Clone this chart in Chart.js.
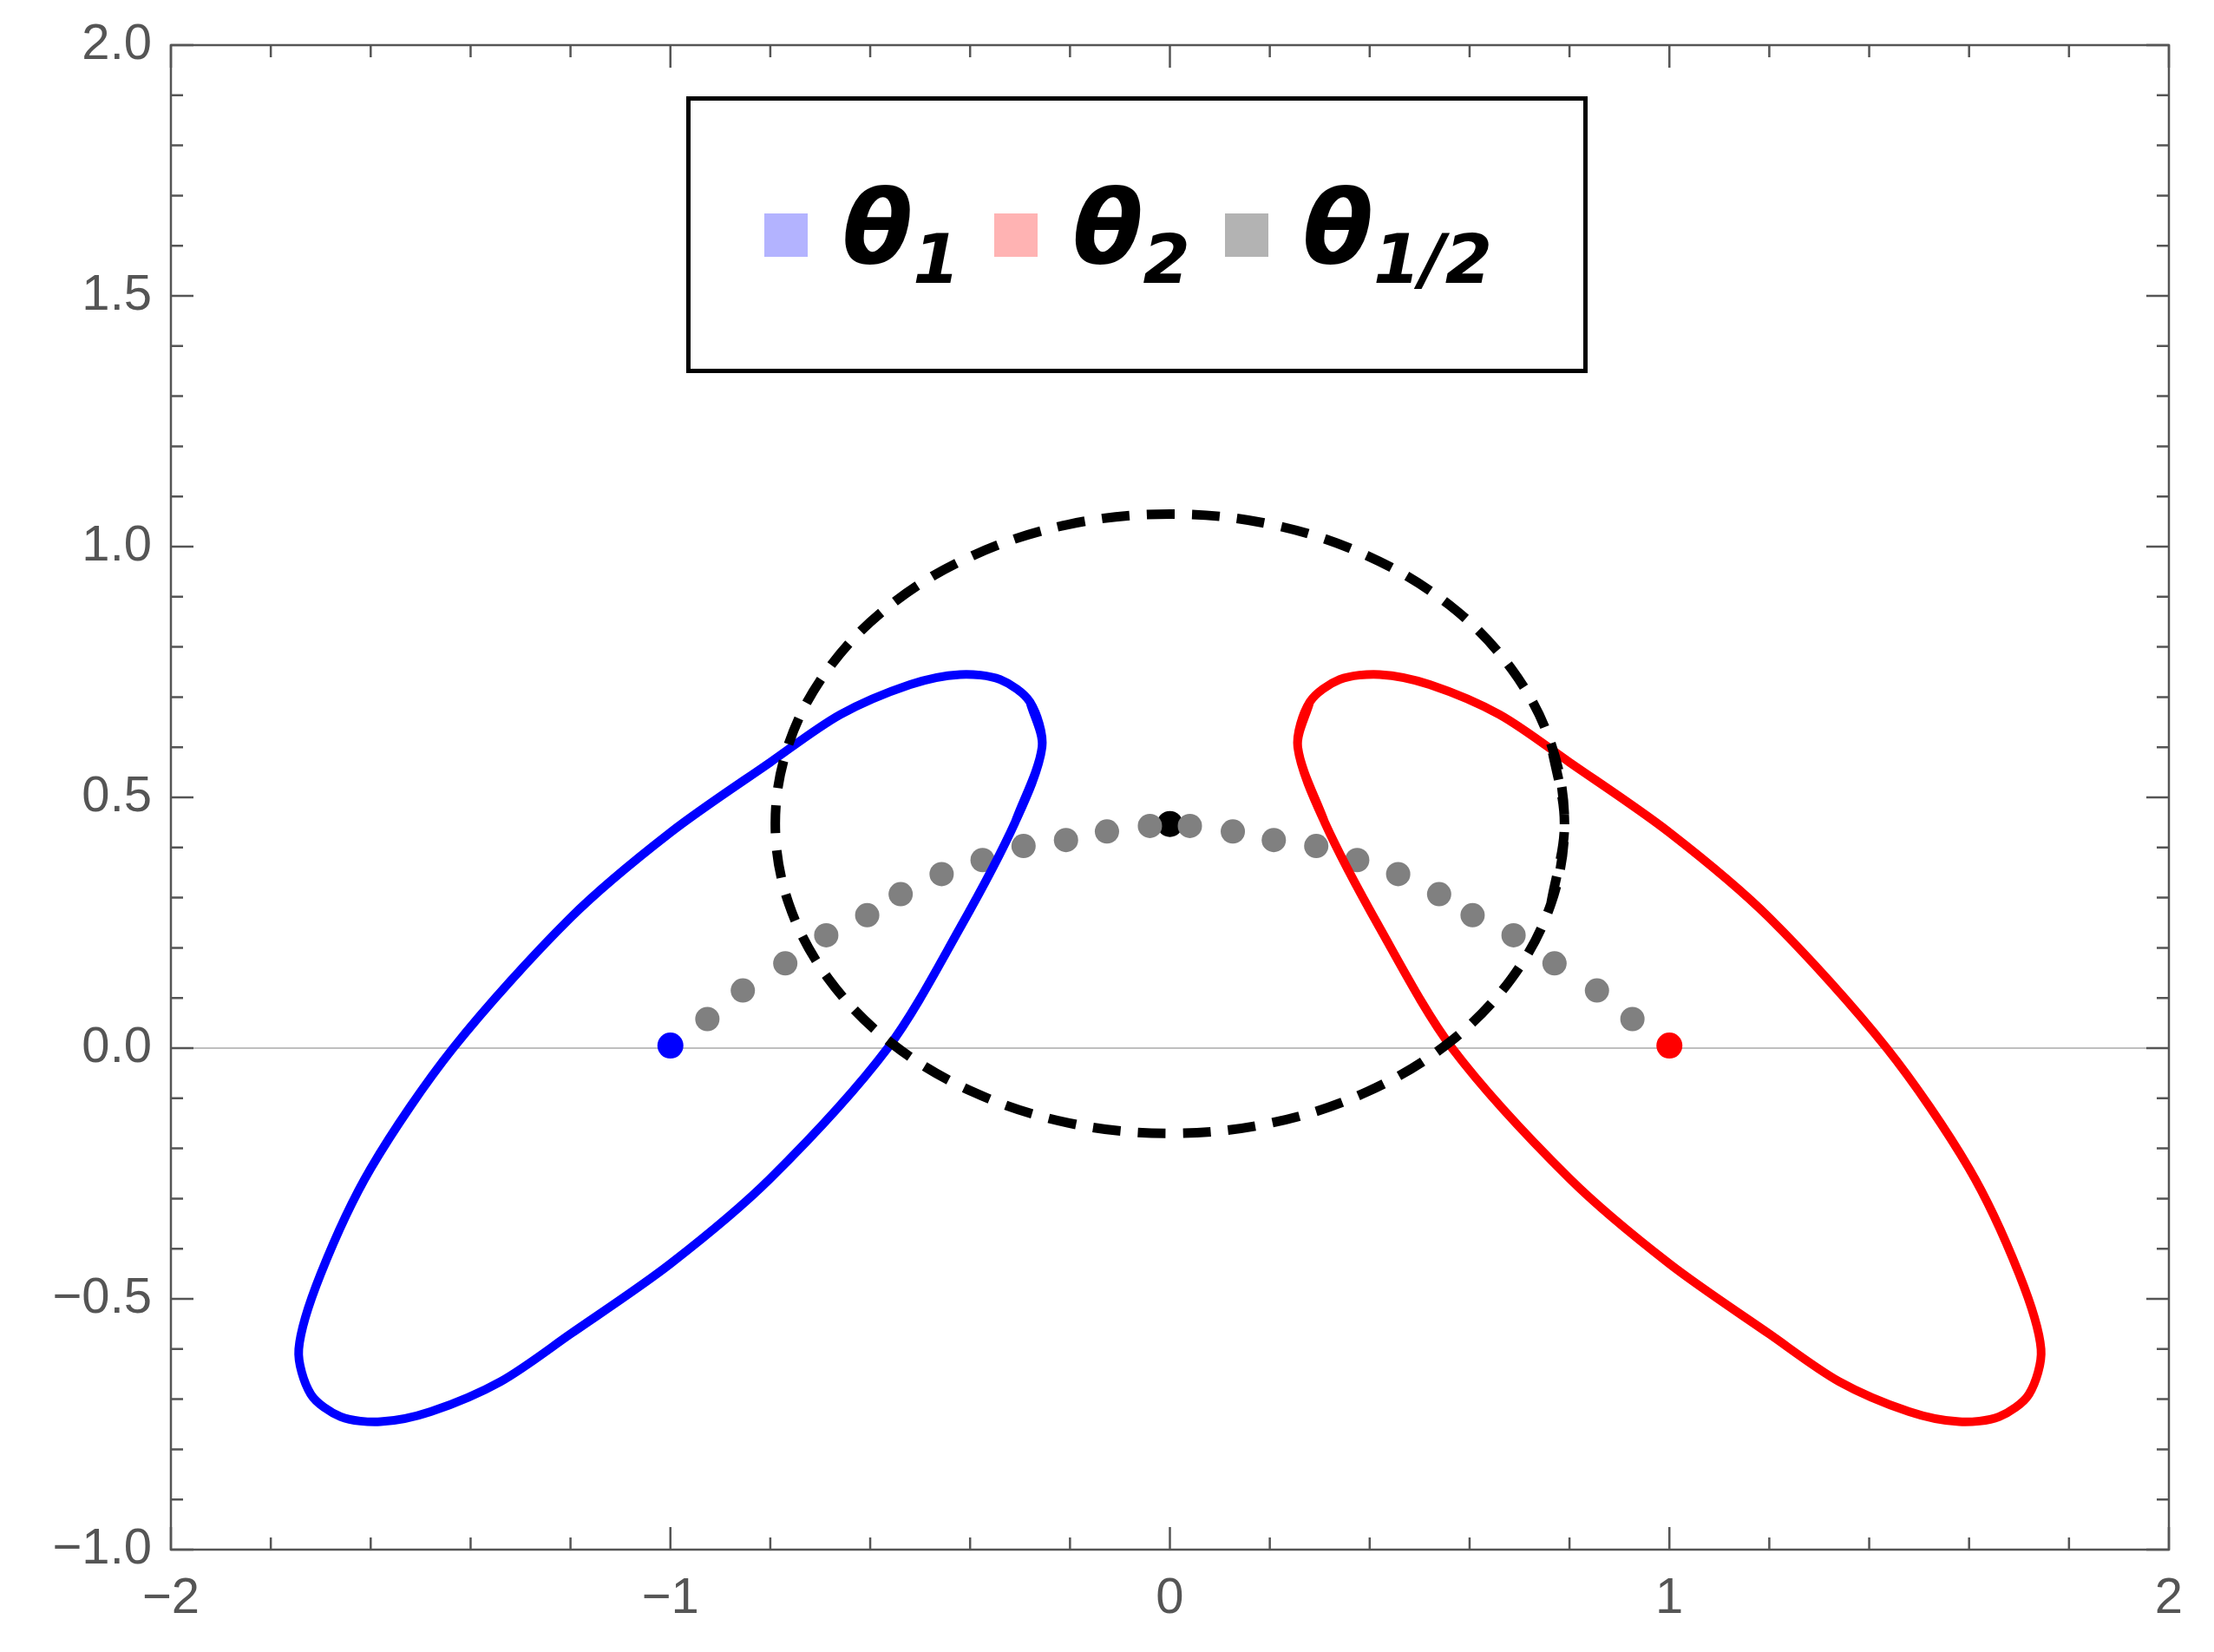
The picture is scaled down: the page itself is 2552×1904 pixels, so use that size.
<!DOCTYPE html>
<html><head><meta charset="utf-8">
<script src="https://cdn.jsdelivr.net/npm/chart.js@4"></script>
<style>
html,body{margin:0;padding:0;background:#fff;}
#wrap{position:relative;width:2552px;height:1904px;}
#legend{position:absolute;left:791px;top:111px;width:1029px;height:309px;border:5px solid #000;background:#fff;display:flex;align-items:center;justify-content:center;font-family:"DejaVu Sans",sans-serif;}
.sq{width:50px;height:50px;display:inline-block;margin:0 40px 0 10px;}
.lab{font-weight:bold;font-style:italic;font-size:118px;margin-right:30px;line-height:1;}
.lab sub{font-size:78px;vertical-align:-0.3em;}
</style></head><body>
<div id="wrap"><canvas id="c" width="2552" height="1904"></canvas>
<div id="legend">
<span class="sq" style="background:#b3b3ff"></span><span class="lab">θ<sub>1</sub></span>
<span class="sq" style="background:#ffb3b3"></span><span class="lab">θ<sub>2</sub></span>
<span class="sq" style="background:#b3b3b3"></span><span class="lab">θ<sub>1/2</sub></span>
</div></div>
<script>
const blueX=[-0.256,-0.28,-0.34,-0.42,-0.52,-0.66,-0.80,-1.00,-1.20,-1.435,-1.60,-1.70,-1.744,-1.72,-1.66,-1.58,-1.48,-1.34,-1.20,-1.00,-0.80,-0.565,-0.42,-0.31];
const blueY=[0.60,0.69,0.735,0.745,0.725,0.665,0.57,0.43,0.26,0.0,-0.24,-0.45,-0.60,-0.69,-0.735,-0.745,-0.725,-0.665,-0.57,-0.43,-0.26,0.0,0.24,0.45];
const redX=[0.256,0.28,0.34,0.42,0.52,0.66,0.80,1.00,1.20,1.435,1.60,1.70,1.744,1.72,1.66,1.58,1.48,1.34,1.20,1.00,0.80,0.565,0.42,0.31];
const redY=[0.60,0.69,0.735,0.745,0.725,0.665,0.57,0.43,0.26,0.0,-0.24,-0.45,-0.60,-0.69,-0.735,-0.745,-0.725,-0.665,-0.57,-0.43,-0.26,0.0,0.24,0.45];
const circX=[0.79,0.763,0.684,0.559,0.395,0.204,0,-0.204,-0.395,-0.559,-0.684,-0.763,-0.79,-0.763,-0.684,-0.559,-0.395,-0.204,0,0.204,0.395,0.559,0.684,0.763];
const circY=[0.4475,0.607,0.756,0.884,0.982,1.044,1.065,1.044,0.982,0.884,0.756,0.607,0.4475,0.288,0.139,0.011,-0.087,-0.149,-0.17,-0.149,-0.087,0.011,0.139,0.288];
const dotX=[-0.926,-0.855,-0.770,-0.688,-0.606,-0.539,-0.457,-0.375,-0.293,-0.208,-0.126,-0.04,0.04,0.126,0.208,0.293,0.375,0.457,0.539,0.606,0.688,0.770,0.855,0.926];
const dotY=[0.058,0.115,0.169,0.225,0.265,0.307,0.347,0.375,0.403,0.415,0.432,0.443,0.443,0.432,0.415,0.403,0.375,0.347,0.307,0.265,0.225,0.169,0.115,0.058];
const xTicks=[-2,-1,0,1,2];
const yTicks=[-1.0,-0.5,0.0,0.5,1.0,1.5,2.0];
const pts=(xs,ys,close)=>{const p=xs.map((x,i)=>({x,y:ys[i]}));if(close){p.unshift(p[p.length-1]);p.push(p[1],p[2]);}return p;};
const gray='#555';
const tickPlugin={id:'ticks',afterDraw(ch){
 const c=ch.ctx,a=ch.chartArea,sx=ch.scales.x,sy=ch.scales.y;
 c.save();
 c.strokeStyle=gray;c.lineWidth=2.5;
 for(let i=0;i<=20;i++){const v=-2+i*0.2;const px=sx.getPixelForValue(v);const L=(i%5===0)?26:14;
  c.beginPath();c.moveTo(px,a.bottom);c.lineTo(px,a.bottom-L);c.moveTo(px,a.top);c.lineTo(px,a.top+L);c.stroke();}
 for(let i=0;i<=30;i++){const v=-1+i*0.1;const py=sy.getPixelForValue(v);const L=(i%5===0)?26:14;
  c.beginPath();c.moveTo(a.left,py);c.lineTo(a.left+L,py);c.moveTo(a.right,py);c.lineTo(a.right-L,py);c.stroke();}
 c.strokeRect(a.left,a.top,a.right-a.left,a.bottom-a.top);
 c.restore();},
 beforeDatasetsDraw(ch){const c=ch.ctx,a=ch.chartArea,sy=ch.scales.y;c.save();c.strokeStyle='#aaa';c.lineWidth=1.5;c.beginPath();c.moveTo(a.left,sy.getPixelForValue(0));c.lineTo(a.right,sy.getPixelForValue(0));c.stroke();c.restore();}};
new Chart(document.getElementById('c'),{type:'scatter',
 data:{datasets:[
  {data:pts(circX,circY,true),showLine:true,borderColor:'#000',borderWidth:11,borderDash:[32,20],pointRadius:0,tension:0.35},
  {data:pts(blueX,blueY,true),showLine:true,borderColor:'#0000ff',borderWidth:10,pointRadius:0,tension:0.3},
  {data:pts(redX,redY,true),showLine:true,borderColor:'#ff0000',borderWidth:10,pointRadius:0,tension:0.3},
  {data:pts(dotX,dotY,false),pointRadius:14,pointBackgroundColor:'#808080',pointBorderWidth:0},
  {data:[{x:0,y:0.447}],pointRadius:15,pointBackgroundColor:'#000',pointBorderWidth:0},
  {data:[{x:-1,y:0.005}],pointRadius:15,pointBackgroundColor:'#0000ff',pointBorderWidth:0},
  {data:[{x:1,y:0.005}],pointRadius:15,pointBackgroundColor:'#ff0000',pointBorderWidth:0}
 ]},
 options:{responsive:false,animation:false,devicePixelRatio:1,
  layout:{padding:{left:0,right:52,top:52,bottom:0}},
  plugins:{legend:{display:false},tooltip:{enabled:false}},
  scales:{
   x:{min:-2,max:2,afterBuildTicks(s){s.ticks=xTicks.map(v=>({value:v}));},
    afterFit(s){s.height=118;},grid:{display:false},border:{display:false},
    ticks:{color:gray,font:{size:58,family:'Liberation Sans'},padding:14,callback:v=>String(v).replace('-','−')}},
   y:{min:-1,max:2,afterBuildTicks(s){s.ticks=yTicks.map(v=>({value:v}));},
    afterFit(s){s.width=197;},grid:{display:false},border:{display:false},
    ticks:{color:gray,font:{size:58,family:'Liberation Sans'},padding:14,callback:v=>v.toFixed(1).replace('-','−')}}
  }},
 plugins:[tickPlugin]});
</script></body></html>
